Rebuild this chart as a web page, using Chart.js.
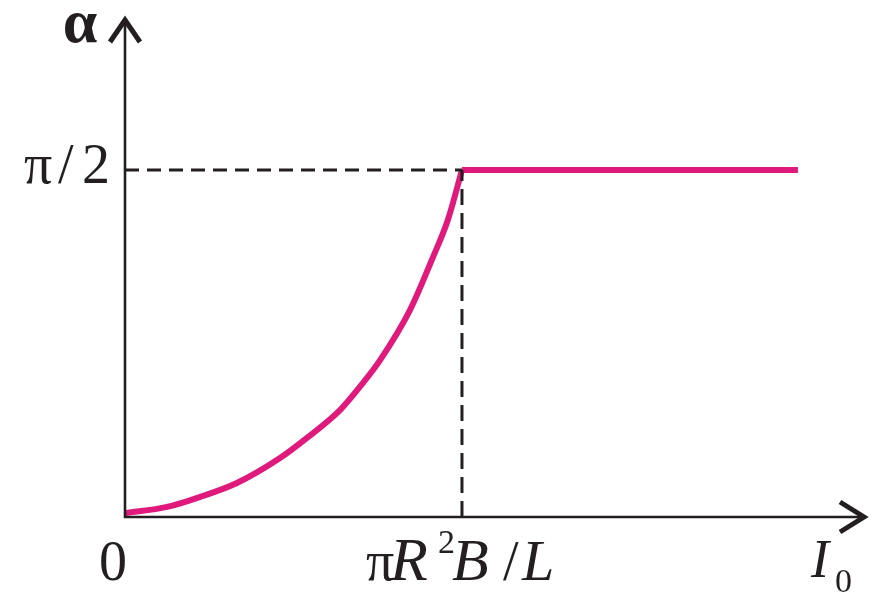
<!DOCTYPE html>
<html>
<head>
<meta charset="utf-8">
<script src="https://cdn.jsdelivr.net/npm/chart.js@4/dist/chart.umd.min.js"></script>
<style>
  html, body { margin: 0; padding: 0; background: #fff; }
  #wrap { width: 882px; height: 598px; }
</style>
</head>
<body>
<div id="wrap"><canvas id="c"></canvas></div>
<script>
// x in units of piR^2B/L, y in units of pi/2
const curveX = [0, 0.125, 0.223, 0.332, 0.46, 0.54, 0.638, 0.706, 0.757, 0.846, 0.914, 0.958, 1.0];
const curveY = [0.011, 0.029, 0.058, 0.098, 0.17, 0.228, 0.308, 0.386, 0.452, 0.597, 0.749, 0.856, 1.0];
const flatX = [1.0, 1.997];
const flatY = [1.0, 1.0];
const critX = 1.0;
const critY = 1.0;
const xMax = 2.196;
const yMax = 1.438;

const pink = '#e0197d';
const ink = '#231f20';
const serif = '"Liberation Serif", "Times New Roman", serif';

function pts(xs, ys) {
    return xs.map((x, i) => ({ x, y: ys[i] }));
}

const axesPlugin = {
    id: 'axes',
    afterDatasetsDraw(chart) {
        const { ctx, scales: { x, y } } = chart;
        const x0 = x.getPixelForValue(0), y0 = y.getPixelForValue(0);
        const xe = x.getPixelForValue(xMax), ye = y.getPixelForValue(yMax);
        const xc = x.getPixelForValue(critX), yc = y.getPixelForValue(critY);
        ctx.save();
        ctx.strokeStyle = ink;
        ctx.lineWidth = 2.6;
        ctx.beginPath();
        ctx.moveTo(x0, y0 + 1.3);
        ctx.lineTo(x0, ye + 2);
        ctx.moveTo(x0 - 1.3, y0);
        ctx.lineTo(xe - 2, y0);
        ctx.stroke();
        // arrow heads
        ctx.lineWidth = 5;
        ctx.beginPath();
        ctx.moveTo(x0 - 15, ye + 24);
        ctx.lineTo(x0, ye + 2);
        ctx.lineTo(x0 + 15, ye + 24);
        ctx.moveTo(xe - 25, y0 - 15);
        ctx.lineTo(xe - 1, y0);
        ctx.lineTo(xe - 25, y0 + 15);
        ctx.stroke();

        // labels
        ctx.fillStyle = ink;
        ctx.textBaseline = 'alphabetic';
        ctx.textAlign = 'center';
        ctx.font = 'bold 62px ' + serif;
        ctx.fillText('α', x0 - 45, ye + 24);
        ctx.font = '56px ' + serif;
        ctx.textAlign = 'left';
        ctx.fillText('π', x0 - 101, yc + 13);
        ctx.fillText('/', x0 - 67, yc + 13);
        ctx.fillText('2', x0 - 43, yc + 13);
        ctx.textAlign = 'center';
        ctx.fillText('0', x0 - 12, y0 + 63);

        // piR^2B/L
        const by = y0 + 63;
        ctx.textAlign = 'left';
        ctx.font = '56px ' + serif;
        ctx.fillText('π', xc - 96, by);
        ctx.font = 'italic 62px ' + serif;
        ctx.fillText('R', xc - 72, by);
        ctx.font = '34px ' + serif;
        ctx.fillText('2', xc - 24, by - 27);
        ctx.font = 'italic 60px ' + serif;
        ctx.fillText('B', xc - 10, by);
        ctx.font = '56px ' + serif;
        ctx.fillText('/', xc + 41, by);
        ctx.font = 'italic 58px ' + serif;
        ctx.fillText('L', xc + 60, by);

        // I_0
        ctx.font = 'italic 54px ' + serif;
        ctx.fillText('I', xe - 54, y0 + 60);
        ctx.font = '34px ' + serif;
        ctx.fillText('0', xe - 30, y0 + 75);
        ctx.restore();
    }
};

new Chart(document.getElementById('c'), {
    type: 'scatter',
    data: {
        datasets: [
            {
                data: [{ x: 0, y: critY }, { x: critX, y: critY }],
                showLine: true, borderColor: ink, borderWidth: 3,
                borderDash: [14, 8], pointRadius: 0
            },
            {
                data: [{ x: critX, y: 0 }, { x: critX, y: critY }],
                showLine: true, borderColor: ink, borderWidth: 3,
                borderDash: [16, 8], pointRadius: 0
            },
            {
                data: pts(curveX, curveY),
                showLine: true, borderColor: pink, borderWidth: 6,
                cubicInterpolationMode: 'monotone', pointRadius: 0
            },
            {
                data: pts(flatX, flatY),
                showLine: true, borderColor: pink, borderWidth: 6,
                pointRadius: 0
            }
        ]
    },
    options: {
        responsive: true,
        maintainAspectRatio: false,
        animation: false,
        layout: { padding: { left: 125, right: 17, top: 18, bottom: 81 } },
        plugins: { legend: { display: false }, tooltip: { enabled: false } },
        scales: {
            x: { type: 'linear', min: 0, max: xMax, display: false },
            y: { type: 'linear', min: 0, max: yMax, display: false }
        },
        elements: { line: { borderCapStyle: 'butt' } }
    },
    plugins: [axesPlugin]
});
</script>
</body>
</html>
